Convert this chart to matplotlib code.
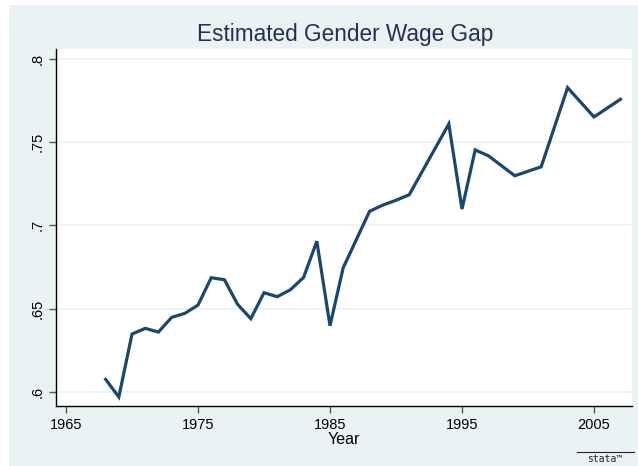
import matplotlib
matplotlib.use("Agg")
import matplotlib.pyplot as plt
from matplotlib.lines import Line2D
from matplotlib.patches import Rectangle

years = [1968, 1969, 1970, 1971, 1972, 1973, 1974, 1975, 1976, 1977,
         1978, 1979, 1980, 1981, 1982, 1983, 1984, 1985, 1986, 1988,
         1989, 1990, 1991, 1994, 1995, 1996, 1997, 1999, 2001, 2003,
         2005, 2007]
gap = [.6076, .597, .6348, .6382, .636, .6448, .6472, .6522, .6686, .6674,
       .6526, .644, .6596, .6572, .6614, .6688, .6905, .6398, .6746, .7085,
       .7122, .7151, .7184, .7609, .7098, .7453, .7418, .7298, .7352, .7827,
       .7651, .7757]

xticks = [1965, 1975, 1985, 1995, 2005]
yticks = [.6, .65, .7, .75, .8]
ylabels = [".6", ".65", ".7", ".75", ".8"]

plt.rcParams['font.family'] = ['Liberation Sans', 'DejaVu Sans']

bg = "#EAF2F3"
navy = "#1A476F"

W, H = 638, 466
fig = plt.figure(figsize=(W / 100, H / 100), dpi=100, facecolor="white")
# graph region (light blue-grey, leaves a thin white margin top/left)
fig.add_artist(Rectangle((9 / W, 0), 1 - 9 / W, 1 - 5 / H,
                         transform=fig.transFigure, facecolor=bg,
                         edgecolor="none", zorder=-10))

ax = fig.add_axes([56 / W, (H - 406) / H, (632 - 56) / W, (406 - 49) / H])
ax.set_facecolor("white")

ax.plot(years, gap, color=navy, lw=2.3, solid_joinstyle="miter")

ax.set_xlim(1964.24, 2007.88)
ax.set_ylim(.5916, .8059)
ax.set_xticks(xticks)
ax.set_xticklabels([str(t) for t in xticks], fontsize=10.5)
ax.set_yticks(yticks)
ax.set_yticklabels(ylabels, fontsize=10.5, rotation=90, va="center")
ax.grid(axis="y", color=bg, lw=1.2)
ax.set_axisbelow(True)
ax.tick_params(direction="out", length=5, width=1, color="#555555", pad=3.5)

for s in ["top", "right"]:
    ax.spines[s].set_visible(False)
for s in ["left", "bottom"]:
    ax.spines[s].set_color("black")
    ax.spines[s].set_linewidth(1)

fig.text(344 / W, 1 - 440 / H, "Year", ha="center", va="center",
         fontsize=11.5, color="black")
fig.text(345 / W, 1 - 34 / H, "Estimated Gender Wage Gap", ha="center",
         va="center", fontsize=16.3, color="#1F3157")

# stata logo
fig.text(605 / W, 1 - 459 / H, "stata\u2122", ha="center", va="center",
         fontsize=7, color="#222222", family="DejaVu Sans Mono")
fig.add_artist(Line2D([577 / W, 634 / W], [1 - 452 / H, 1 - 452 / H],
                      color="#222222", lw=0.8))

fig.savefig("out.png", dpi=100, facecolor="white")
